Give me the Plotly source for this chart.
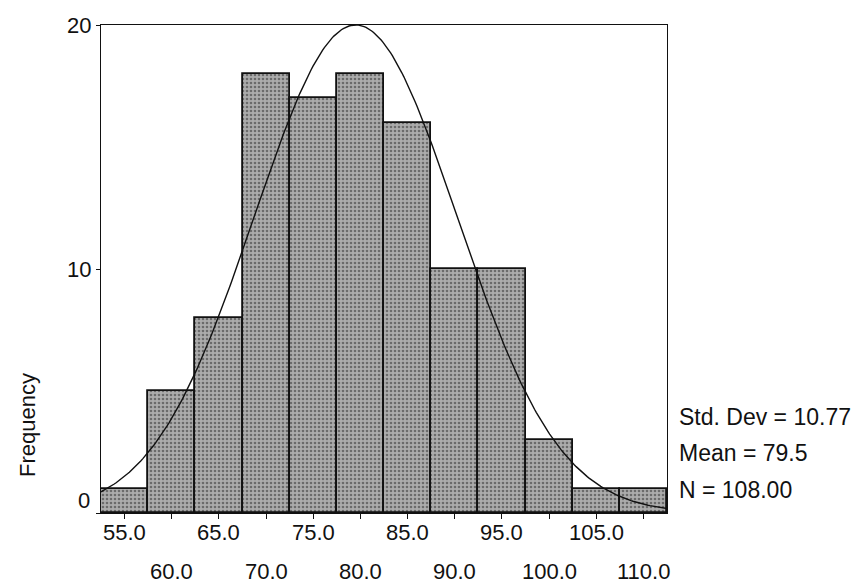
import numpy as np
import plotly.graph_objects as go

# ---- data ----
bin_centers = [55, 60, 65, 70, 75, 80, 85, 90, 95, 100, 105, 110]
frequencies = [1, 5, 8, 18, 17, 18, 16, 10, 10, 3, 1, 1]
tick_labels = ["55.0", "60.0", "65.0", "70.0", "75.0", "80.0",
               "85.0", "90.0", "95.0", "100.0", "105.0", "110.0"]
y_ticks = [0, 10, 20]
std_dev = 10.77
mean = 79.5
n_total = 108.00
bin_width = 5.0

# fitted normal curve (SPSS histogram overlay) from the stated statistics
x_lo = bin_centers[0] - bin_width / 2
x_hi = bin_centers[-1] + bin_width / 2
xc = np.linspace(x_lo, x_hi, 300)
yc = n_total * bin_width / (std_dev * np.sqrt(2 * np.pi)) * np.exp(-0.5 * ((xc - mean) / std_dev) ** 2)

FONT = "Liberation Sans, Arial, sans-serif"
INK = "#111111"

fig = go.Figure()
fig.add_trace(go.Bar(
    x=bin_centers, y=frequencies, width=bin_width,
    marker=dict(
        color="#9c9c9c",
        line=dict(color=INK, width=1.8),
        pattern=dict(shape=".", fgcolor="#2a2a2a", bgcolor="#acacac", size=4, solidity=0.35),
    ),
    showlegend=False, hoverinfo="x+y",
))
fig.add_trace(go.Scatter(
    x=xc, y=yc, mode="lines", line=dict(color=INK, width=1.4),
    showlegend=False, hoverinfo="skip",
))

annotations = []
# staggered x tick labels
for i, (c, t) in enumerate(zip(bin_centers, tick_labels)):
    py = 532 if i % 2 == 0 else 571
    annotations.append(dict(x=c, y=py, xref="x", yref="paper", text=t,
                            showarrow=False, xanchor="center", yanchor="middle",
                            font=dict(family=FONT, size=22, color=INK)))
# y tick label for 0 sits slightly above the axis line
annotations.append(dict(x=0, y=0, xref="paper", yref="y", text="0", showarrow=False,
                        xanchor="right", yanchor="middle", xshift=-9, yshift=13,
                        font=dict(family=FONT, size=22, color=INK)))
# axis title
annotations.append(dict(x=27, y=425, xref="paper", yref="paper",
                        text="Frequency", showarrow=False, textangle=-90,
                        xanchor="center", yanchor="middle",
                        font=dict(family=FONT, size=22, color=INK)))
# statistics
stats = [f"Std. Dev = {std_dev:.2f}", f"Mean = {mean}", f"N = {n_total:.2f}"]
stat_y = [417, 453, 490]
for s, py in zip(stats, stat_y):
    annotations.append(dict(x=677, y=py, xref="paper", yref="paper", text=s,
                            showarrow=False, xanchor="left", yanchor="middle",
                            font=dict(family=FONT, size=23, color=INK)))

# convert pixel-specified paper positions
W, H = 862, 584
L, R, T, B = 101, 195, 25, 71
pw, ph = W - L - R, H - T - B
for a in annotations:
    if a["xref"] == "paper" and a["x"] > 1.5:
        a["x"] = (a["x"] - L) / pw
    if a["yref"] == "paper" and a["y"] > 1.5:
        a["y"] = (H - B - a["y"]) / ph

fig.update_layout(
    width=W, height=H,
    margin=dict(l=L, r=R, t=T, b=B),
    paper_bgcolor="white", plot_bgcolor="white",
    bargap=0,
    annotations=annotations,
    font=dict(family=FONT, size=22, color=INK),
    xaxis=dict(range=[x_lo, x_hi], tickvals=bin_centers, ticktext=[""] * len(bin_centers),
               ticks="outside", ticklen=5, tickwidth=1, tickcolor=INK,
               showline=True, linecolor=INK, linewidth=1.2, mirror=True,
               showgrid=False, zeroline=False, fixedrange=True, automargin=False),
    yaxis=dict(range=[0, 20], tickvals=y_ticks, ticktext=["", "10", "20"],
               ticks="outside", ticklen=4, tickwidth=1, tickcolor=INK,
               showline=True, linecolor=INK, linewidth=1.2, mirror=True,
               showgrid=False, zeroline=False, fixedrange=True, automargin=False,
               tickfont=dict(family=FONT, size=22, color=INK)),
)

fig.write_html("out.html", config={"displayModeBar": False},
               post_script="document.body.style.margin='0px';")
